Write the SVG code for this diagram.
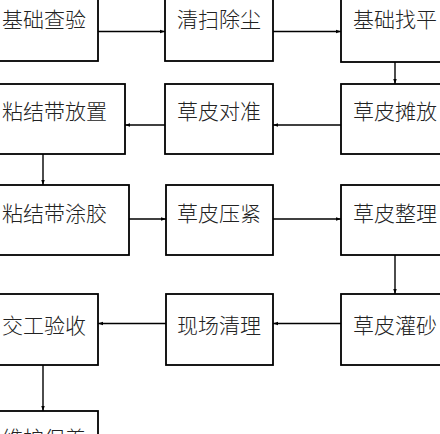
<svg xmlns="http://www.w3.org/2000/svg" width="440" height="434" viewBox="0 0 440 434">
<defs>
<marker id="ah" viewBox="0 0 10 10" refX="10" refY="5" markerWidth="7" markerHeight="5" markerUnits="userSpaceOnUse" orient="auto">
<path d="M0,1.5 L10,5 L0,8.5 z" fill="#000"/>
</marker>
<style>
.b{fill:#fff;stroke:#000;stroke-width:1.8}
.t{font-family:"Noto Sans CJK SC","Noto Sans CJK JP",sans-serif;font-size:21px;font-weight:300;fill:#222}
.c{stroke:#000;stroke-width:1.4;fill:none;marker-end:url(#ah)}
</style>
</defs>
<rect width="440" height="434" fill="#fff"/>
<g id="connectors">
<line class="c" x1="98" y1="31.5" x2="165" y2="31.5"/>
<line class="c" x1="273" y1="31.5" x2="341" y2="31.5"/>
<line class="c" x1="395" y1="61" x2="395" y2="84"/>
<line class="c" x1="341" y1="125" x2="273" y2="125"/>
<line class="c" x1="165" y1="125" x2="125" y2="125"/>
<line class="c" x1="43" y1="154" x2="43" y2="185"/>
<line class="c" x1="129" y1="219" x2="166" y2="219"/>
<line class="c" x1="273" y1="219" x2="341" y2="219"/>
<line class="c" x1="395" y1="255" x2="395" y2="294"/>
<line class="c" x1="341" y1="323.5" x2="273" y2="323.5"/>
<line class="c" x1="166" y1="323.5" x2="98" y2="323.5"/>
<line class="c" x1="43" y1="365" x2="43" y2="411"/>
</g>
<g id="n1"><rect class="b" x="-10" y="-10" width="108" height="71"/><text class="t" x="2" y="27">基础查验</text></g>
<g id="n2"><rect class="b" x="165" y="-10" width="108" height="71"/><text class="t" x="177" y="27">清扫除尘</text></g>
<g id="n3"><rect class="b" x="341" y="-10" width="108" height="72"/><text class="t" x="353" y="27">基础找平</text></g>
<g id="n4"><rect class="b" x="341" y="84" width="108" height="70"/><text class="t" x="353" y="119">草皮摊放</text></g>
<g id="n5"><rect class="b" x="165" y="84" width="108" height="70"/><text class="t" x="177" y="119">草皮对准</text></g>
<g id="n6"><rect class="b" x="-10" y="84" width="135" height="70"/><text class="t" x="2" y="119">粘结带放置</text></g>
<g id="n7"><rect class="b" x="-10" y="185" width="139" height="70"/><text class="t" x="2" y="221">粘结带涂胶</text></g>
<g id="n8"><rect class="b" x="166" y="185" width="107" height="70"/><text class="t" x="177" y="221">草皮压紧</text></g>
<g id="n9"><rect class="b" x="341" y="185" width="108" height="70"/><text class="t" x="353" y="221">草皮整理</text></g>
<g id="n10"><rect class="b" x="341" y="294" width="108" height="71"/><text class="t" x="353" y="333">草皮灌砂</text></g>
<g id="n11"><rect class="b" x="166" y="294" width="107" height="71"/><text class="t" x="177" y="333">现场清理</text></g>
<g id="n12"><rect class="b" x="-10" y="294" width="108" height="71"/><text class="t" x="2" y="333">交工验收</text></g>
<g id="n13"><rect class="b" x="-10" y="411" width="108" height="71"/><text class="t" x="2" y="446">维护保养</text></g>
</svg>
